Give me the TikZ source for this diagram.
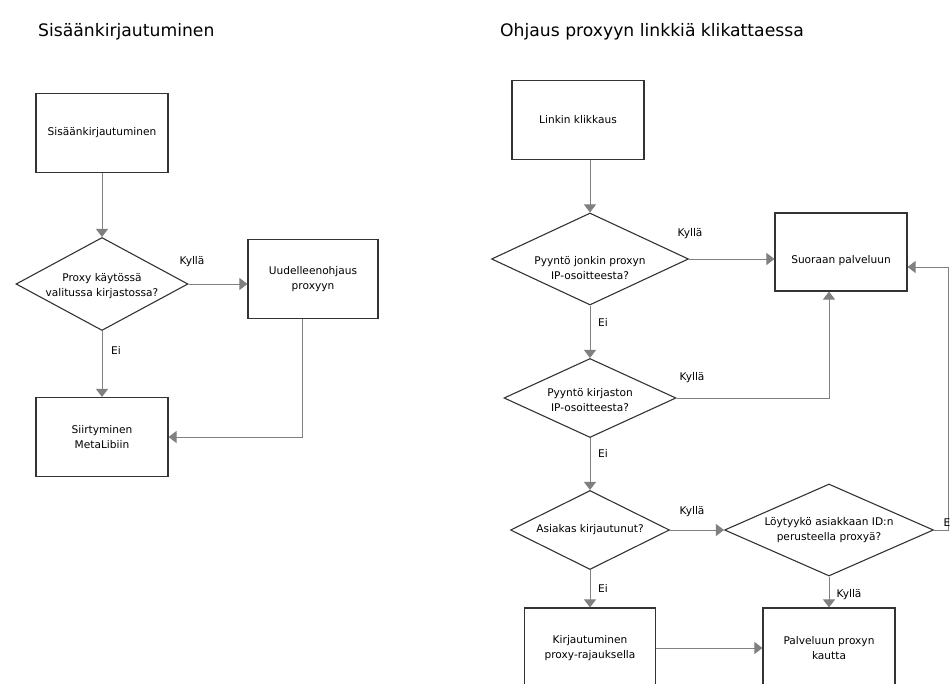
\documentclass[tikz,border=0pt]{standalone}
\usepackage{fontspec}
\setmainfont{DejaVu Sans}
\usetikzlibrary{arrows.meta, positioning, shapes.geometric}

\tikzset{
    box/.style={draw=black!80, line width=1.1pt, minimum width=132pt, minimum height=79pt,
        align=center, font=\fontsize{10.6}{15.5}\selectfont},
    dia/.style={draw=black!80, line width=1.1pt, diamond, inner sep=0pt},
    txt/.style={align=center, inner sep=0pt, font=\fontsize{10.6}{15.5}\selectfont},
    lbl/.style={inner sep=0pt, font=\fontsize{10.6}{15.5}\selectfont},
    title/.style={inner sep=0pt, anchor=west, font=\fontsize{17.2}{20}\selectfont},
    flow/.style={draw=black!50, line width=0.9pt, -{Triangle[length=8pt,width=12pt]}},
}

\begin{document}
\begin{tikzpicture}[x=1pt, y=-1pt]
    \useasboundingbox (0,0) rectangle (950,684);

    % titles
    \node[title] (lefttitle) at (38,32) {Sisäänkirjautuminen};
    \node[title] (righttitle) at (500,32) {Ohjaus proxyyn linkkiä klikattaessa};

    % left chart
    \node[box] (login) at (102,133) {Sisäänkirjautuminen};
    \node[dia, minimum width=172pt, minimum height=93pt] (proxy) at (102,284) {};
    \node[txt] (proxyt) at ([yshift=-2pt]proxy) {Proxy käytössä\\valitussa kirjastossa?};
    \node[box, minimum width=130pt] (redir) at (313,279) {Uudelleenohjaus\\proxyyn};
    \node[box] (metalib) at (102,437) {Siirtyminen\\MetaLibiin};

    \draw[flow] (login) -- (proxy);
    \draw[flow] (proxy.east) -- (proxy.east -| redir.west);
    \draw[flow] (proxy) -- (metalib);
    \draw[flow] ([xshift=-11pt]redir.south) |- (metalib.east);

    \node[lbl] (yes0) at (192,262) {Kyllä};
    \node[lbl] (no0) at (116,350) {Ei};

    % right chart
    \node[box] (click) at (578,120) {Linkin klikkaus};
    \node[dia, minimum width=197pt, minimum height=92pt] (anyproxy) at (590,259) {};
    \node[txt] (anyproxyt) at ([yshift=-9pt]anyproxy) {Pyyntö jonkin proxyn\\IP-osoitteesta?};
    \node[box, minimum height=78pt, text height=26pt] (direct) at (841,252) {Suoraan palveluun};
    \node[dia, minimum width=172pt, minimum height=79pt] (libip) at (590,398) {};
    \node[txt] (libipt) at ([yshift=-2pt]libip) {Pyyntö kirjaston\\IP-osoitteesta?};
    \node[dia, minimum width=159pt, minimum height=79pt] (logged) at (590,530) {};
    \node[txt] (loggedt) at (logged) {Asiakas kirjautunut?};
    \node[dia, minimum width=209pt, minimum height=92pt] (idproxy) at (829,530) {};
    \node[txt] (idproxyt) at (idproxy) {Löytyykö asiakkaan ID:n\\perusteella proxyä?};
    \node[box, minimum width=131pt, minimum height=80pt] (restrict) at (590,648) {Kirjautuminen\\proxy-rajauksella};
    \node[box, minimum height=80pt] (viaproxy) at (829,648) {Palveluun proxyn\\kautta};

    \draw[flow] (click.south -| anyproxy.north) -- (anyproxy.north);
    \draw[flow] (anyproxy.east) -- (anyproxy.east -| direct.west);
    \draw[flow] (anyproxy) -- (libip);
    \draw[flow] (libip.east) -| ([xshift=-12pt]direct.south);
    \draw[flow] (libip) -- (logged);
    \draw[flow] (logged) -- (idproxy);
    \draw[flow] (logged) -- (restrict);
    \draw[flow] (idproxy) -- (viaproxy);
    \draw[flow] (restrict) -- (viaproxy);
    \draw[flow] (idproxy.east) -- ++(14,0) |- ([yshift=-15pt]direct.east);

    \node[lbl] (yes1) at (690,234) {Kyllä};
    \node[lbl] (no1) at (603,322) {Ei};
    \node[lbl] (yes2) at (692,378) {Kyllä};
    \node[lbl] (no2) at (603,453) {Ei};
    \node[lbl] (yes3) at (692,512) {Kyllä};
    \node[lbl] (no3) at (603,588) {Ei};
    \node[lbl] (yes4) at (849,595) {Kyllä};
    \node[lbl, anchor=west] (no4) at (943.5,522) {Ei};
\end{tikzpicture}
\end{document}
